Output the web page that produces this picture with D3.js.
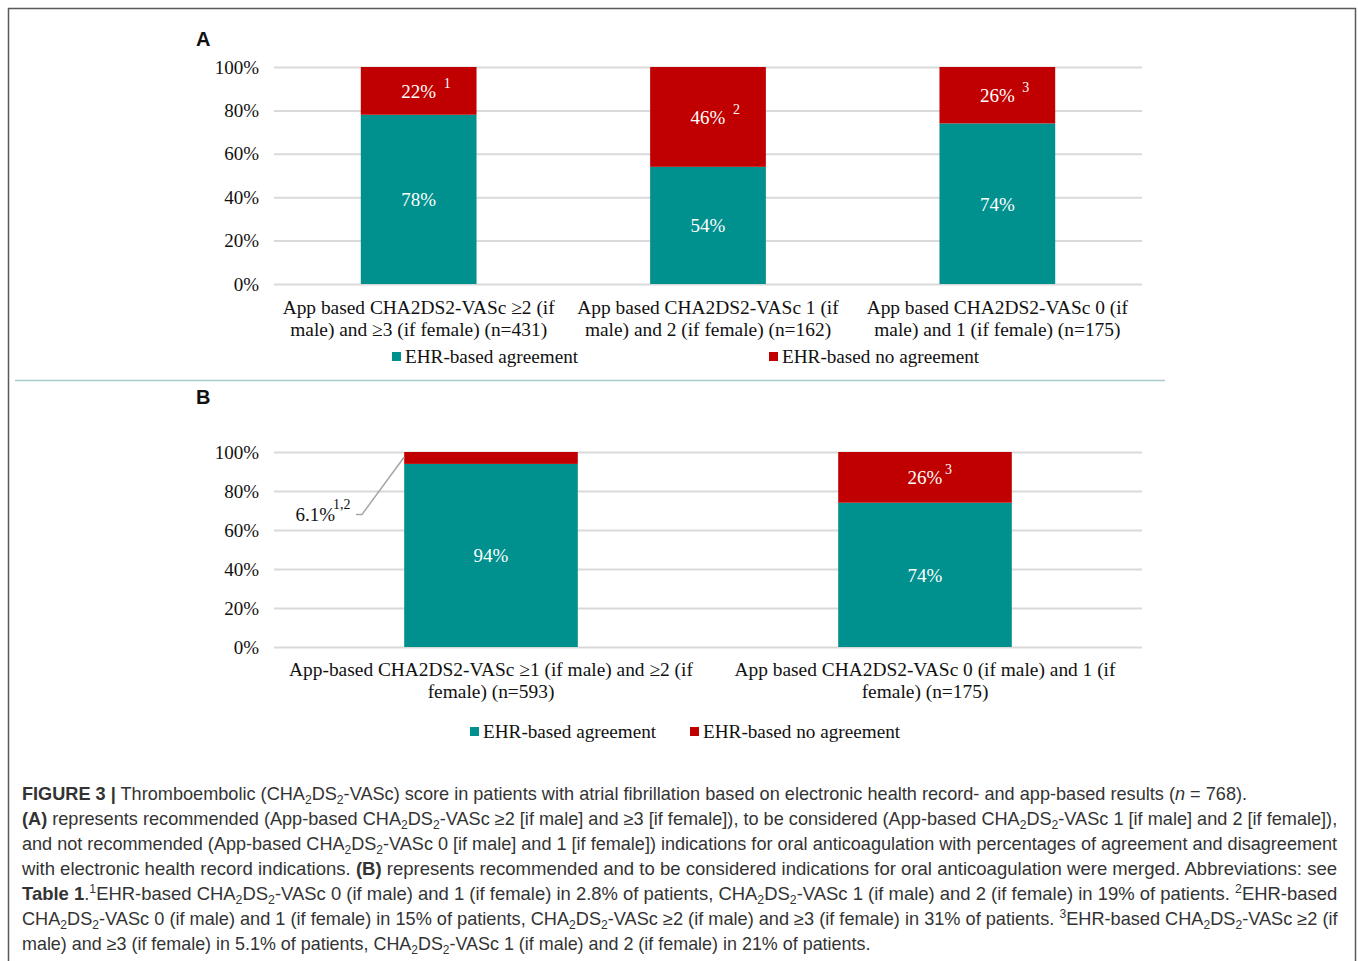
<!DOCTYPE html>
<html>
<head>
<meta charset="utf-8">
<script src="https://cdn.jsdelivr.net/npm/d3@7"></script>
<style>
  html, body { margin: 0; padding: 0; background: #fff; }
  svg { display: block; }
</style>
</head>
<body>
<svg id="fig" width="1358" height="961"></svg>
<script>
// ---- data ----
const yTicks = [0, 20, 40, 60, 80, 100];

const categoriesA = [
  ["App based CHA2DS2-VASc \u22652 (if", "male) and \u22653 (if female) (n=431)"],
  ["App based CHA2DS2-VASc 1 (if", "male) and 2 (if female) (n=162)"],
  ["App based CHA2DS2-VASc 0 (if", "male) and 1 (if female) (n=175)"]
];
const agreementA = [78, 54, 74];
const noAgreementA = [22, 46, 26];
const notesA = ["1", "2", "3"];

const categoriesB = [
  ["App-based CHA2DS2-VASc \u22651 (if male) and \u22652 (if", "female) (n=593)"],
  ["App based CHA2DS2-VASc 0 (if male) and 1 (if", "female) (n=175)"]
];
const agreementB = [93.9, 74];
const noAgreementB = [6.1, 26];
const notesB = ["1,2", "3"];

const seriesNames = ["EHR-based agreement", "EHR-based no agreement"];
const colors = ["#00908d", "#c00000"];

// caption lines: segments with optional bold / italic / sub / sup
const S = (t, o = {}) => Object.assign({ t }, o);
const CHA = [S("CHA"), S("2", { sub: 1 }), S("DS"), S("2", { sub: 1 }), S("-VASc")];
const captionLines = [
  { w: 1226, segs: [S("FIGURE 3 |", { b: 1 }), S(" Thromboembolic ("), ...CHA, S(") score in patients with atrial fibrillation based on electronic health record- and app-based results ("), S("n", { i: 1 }), S(" = 768).")] },
  { w: 1316, segs: [S("(A)", { b: 1 }), S(" represents recommended (App-based "), ...CHA, S(" \u22652 [if male] and \u22653 [if female]), to be considered (App-based "), ...CHA, S(" 1 [if male] and 2 [if female]),")] },
  { w: 1316, segs: [S("and not recommended (App-based "), ...CHA, S(" 0 [if male] and 1 [if female]) indications for oral anticoagulation with percentages of agreement and disagreement")] },
  { w: 1316, segs: [S("with electronic health record indications. "), S("(B)", { b: 1 }), S(" represents recommended and to be considered indications for oral anticoagulation were merged. Abbreviations: see")] },
  { w: 1316, segs: [S("Table 1", { b: 1 }), S("."), S("1", { sup: 1 }), S("EHR-based "), ...CHA, S(" 0 (if male) and 1 (if female) in 2.8% of patients, "), ...CHA, S(" 1 (if male) and 2 (if female) in 19% of patients. "), S("2", { sup: 1 }), S("EHR-based")] },
  { w: 1316, segs: [...CHA, S(" 0 (if male) and 1 (if female) in 15% of patients, "), ...CHA, S(" \u22652 (if male) and \u22653 (if female) in 31% of patients. "), S("3", { sup: 1 }), S("EHR-based "), ...CHA, S(" \u22652 (if")] },
  { w: 849, segs: [S("male) and \u22653 (if female) in 5.1% of patients, "), ...CHA, S(" 1 (if male) and 2 (if female) in 21% of patients.")] }
];

// ---- drawing ----
const svg = d3.select("#fig");
const serif = "'Liberation Serif', 'Times New Roman', serif";
const sans = "'Liberation Sans', Arial, sans-serif";

// frame and panel divider
svg.append("rect").attr("x", 8.5).attr("y", 8.5).attr("width", 1347).attr("height", 980)
  .attr("fill", "none").attr("stroke", "#5a5a5a").attr("stroke-width", 1.5);
svg.append("line").attr("x1", 15).attr("x2", 1165).attr("y1", 380.5).attr("y2", 380.5)
  .attr("stroke", "#a9cccb").attr("stroke-width", 1.5);

function panel(cfg) {
  const g = svg.append("g");
  const x = d3.scaleBand().domain(d3.range(cfg.cats.length)).range([274, 1142]).paddingInner(0.6).paddingOuter(0.3);
  const y = d3.scaleLinear().domain([0, 100]).range([cfg.y0, cfg.y1]);

  g.append("text").attr("x", 196).attr("y", cfg.letterY).text(cfg.letter)
    .attr("font-family", sans).attr("font-weight", "bold").attr("font-size", 20).attr("fill", "#111");

  const ax = g.append("g").attr("transform", "translate(274,0)")
    .call(d3.axisLeft(y).tickValues(yTicks).tickFormat(d => d + "%").tickSize(-868).tickPadding(15));
  ax.select(".domain").remove();
  ax.selectAll(".tick line").attr("stroke", "#d9d9d9").attr("stroke-width", 2);
  ax.selectAll(".tick text").attr("font-family", serif).attr("font-size", 19).attr("fill", "#111");

  const stacks = cfg.cats.map((c, i) => ({ i, a: cfg.agree[i], n: cfg.no[i] }));

  // agreement segments
  g.selectAll(".agree").data(stacks).join("rect")
    .attr("x", d => x(d.i)).attr("width", x.bandwidth())
    .attr("y", d => y(d.a)).attr("height", d => y(0) - y(d.a)).attr("fill", colors[0]);
  // no-agreement segments
  g.selectAll(".noagree").data(stacks).join("rect")
    .attr("x", d => x(d.i)).attr("width", x.bandwidth())
    .attr("y", d => y(d.a + d.n)).attr("height", d => y(d.a) - y(d.a + d.n)).attr("fill", colors[1]);

  const fmt = d3.format(".0f");
  // agreement labels
  g.selectAll(".alab").data(stacks).join("text")
    .attr("x", d => x(d.i) + x.bandwidth() / 2).attr("y", d => (y(0) + y(d.a)) / 2 + 7)
    .attr("text-anchor", "middle").attr("font-family", serif).attr("font-size", 19).attr("fill", "#fff")
    .text(d => fmt(d.a) + "%");

  // no-agreement labels with footnote marks
  stacks.forEach(d => {
    const cx = x(d.i) + x.bandwidth() / 2;
    const cy = (y(d.a) + y(d.a + d.n)) / 2 + 7;
    const lab = d3.format(d.n < 10 ? ".1f" : ".0f")(d.n) + "%";
    if (cfg.outside[d.i]) {
      const lx = 335, ly = 521;
      g.append("text").attr("x", lx).attr("y", ly).attr("text-anchor", "end")
        .attr("font-family", serif).attr("font-size", 19).attr("fill", "#111").text(lab);
      g.append("text").attr("x", lx - 2).attr("y", ly - 12).attr("font-family", serif).attr("font-size", 14)
        .attr("fill", "#111").text(cfg.notes[d.i]);
      const tx = x(d.i), ty = (y(d.a) + y(d.a + d.n)) / 2;
      g.append("path").attr("d", `M${lx + 21},${ly - 6.5}H${lx + 27}L${tx},${ty - 1}`)
        .attr("fill", "none").attr("stroke", "#a6a6a6").attr("stroke-width", 1.5);
    } else {
      g.append("text").attr("x", cx).attr("y", cy).attr("text-anchor", "middle")
        .attr("font-family", serif).attr("font-size", 19).attr("fill", "#fff").text(lab);
      g.append("text").attr("x", cx + 17 + cfg.supGap).attr("y", cy - 10)
        .attr("font-family", serif).attr("font-size", 14).attr("fill", "#fff").text(cfg.notes[d.i]);
    }
  });

  // category labels
  cfg.cats.forEach((lines, i) => {
    const t = g.append("text").attr("text-anchor", "middle").attr("font-family", serif)
      .attr("font-size", 19.4).attr("fill", "#111");
    lines.forEach((ln, k) => t.append("tspan").attr("x", x(i) + x.bandwidth() / 2)
      .attr("y", cfg.catY + k * 22).text(ln));
  });

  // legend
  seriesNames.forEach((nm, k) => {
    const lx = cfg.legX[k];
    g.append("rect").attr("x", lx).attr("y", cfg.legY - 11).attr("width", 9).attr("height", 9).attr("fill", colors[k]);
    g.append("text").attr("x", lx + 13).attr("y", cfg.legY).attr("font-family", serif)
      .attr("font-size", 19.2).attr("fill", "#111").text(nm);
  });
}

panel({
  letter: "A", letterY: 46, y0: 284, y1: 67,
  cats: categoriesA, agree: agreementA, no: noAgreementA, notes: notesA,
  outside: [false, false, false], supGap: 8,
  catY: 314, legY: 363, legX: [392, 769]
});

panel({
  letter: "B", letterY: 404, y0: 647, y1: 452,
  cats: categoriesB, agree: agreementB, no: noAgreementB, notes: notesB,
  outside: [true, false], supGap: 3,
  catY: 676, legY: 738, legX: [470, 690]
});

// caption
const capColor = "#333";
captionLines.forEach((line, li) => {
  const g = svg.append("g");
  const t = g.append("text").attr("x", 0).attr("y", 0).attr("font-family", sans)
    .attr("font-size", 18).attr("fill", capColor);
  line.segs.forEach(s => {
    const ts = t.append("tspan").text(s.t);
    if (s.b) ts.attr("font-weight", "bold");
    if (s.i) ts.attr("font-style", "italic");
    if (s.sub) ts.attr("font-size", 12).attr("dy", 4);
    if (s.sup) ts.attr("font-size", 12).attr("dy", -7);
    if (s.sub || s.sup) {
      // return to the main baseline for the next run
      ts.attr("data-back", s.sub ? -4 : 7);
    }
  });
  // reset baseline after each shifted run
  t.selectAll("tspan").each(function (d, i, nodes) {
    const back = this.getAttribute("data-back");
    if (back && nodes[i + 1]) {
      const nx = d3.select(nodes[i + 1]);
      nx.attr("dy", (+(nx.attr("dy") || 0)) + (+back));
    }
  });
  const w = t.node().getComputedTextLength();
  g.attr("transform", `translate(22,${800 + li * 25}) scale(${line.w / w},1)`);
});
</script>
</body>
</html>
